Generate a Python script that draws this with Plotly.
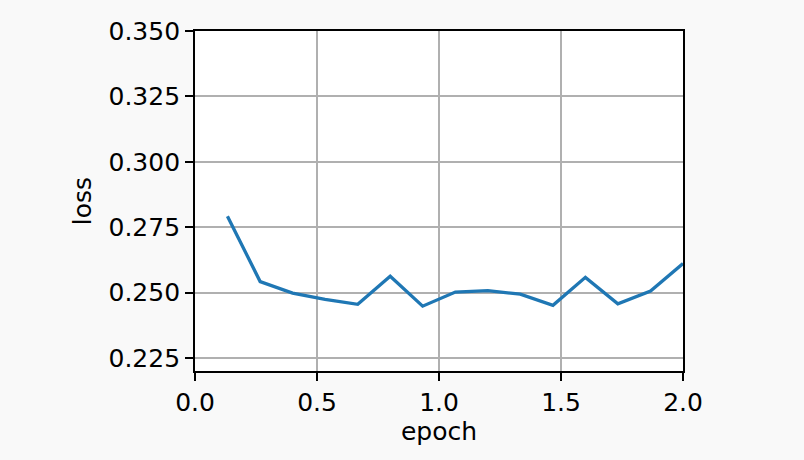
import plotly.graph_objects as go

epoch = [0.133, 0.267, 0.4, 0.533, 0.667, 0.8, 0.933, 1.067, 1.2, 1.333, 1.467, 1.6, 1.733, 1.867, 2.0]
loss = [0.2792, 0.2542, 0.2498, 0.2474, 0.2455, 0.2562, 0.2448, 0.2502, 0.2507, 0.2494, 0.2451, 0.2558, 0.2457, 0.2506, 0.2611]
x_ticks = [0.0, 0.5, 1.0, 1.5, 2.0]
x_tick_text = ["0.0", "0.5", "1.0", "1.5", "2.0"]
y_ticks = [0.225, 0.25, 0.275, 0.3, 0.325, 0.35]
y_tick_text = ["0.225", "0.250", "0.275", "0.300", "0.325", "0.350"]

fig = go.Figure()
fig.add_trace(go.Scatter(x=epoch, y=loss, mode="lines",
                         line=dict(color="#1f77b4", width=3.3), showlegend=False))

font = dict(family="DejaVu Sans", size=25, color="black")
axis_common = dict(showline=True, linecolor="black", linewidth=1.8, mirror=True,
                   ticks="outside", ticklen=8, tickwidth=1.8, tickcolor="black",
                   showgrid=True, gridcolor="#b0b0b0", gridwidth=1.8,
                   zeroline=False, tickfont=font)

fig.update_layout(
    width=804, height=460,
    margin=dict(l=195, r=121, t=31, b=89),
    paper_bgcolor="#f9f9f9", plot_bgcolor="white",
    font=font,
    xaxis=dict(range=[0, 2.0], tickvals=x_ticks, ticktext=x_tick_text,
               title=dict(text="epoch", font=font, standoff=6), **axis_common),
    yaxis=dict(range=[0.22, 0.35], tickvals=y_ticks, ticktext=y_tick_text,
               title=dict(text="loss", font=font, standoff=10), **axis_common),
)
fig.write_html("out.html", config={"displayModeBar": False},
               post_script="document.body.style.margin='0';document.body.style.background='#f9f9f9';")
